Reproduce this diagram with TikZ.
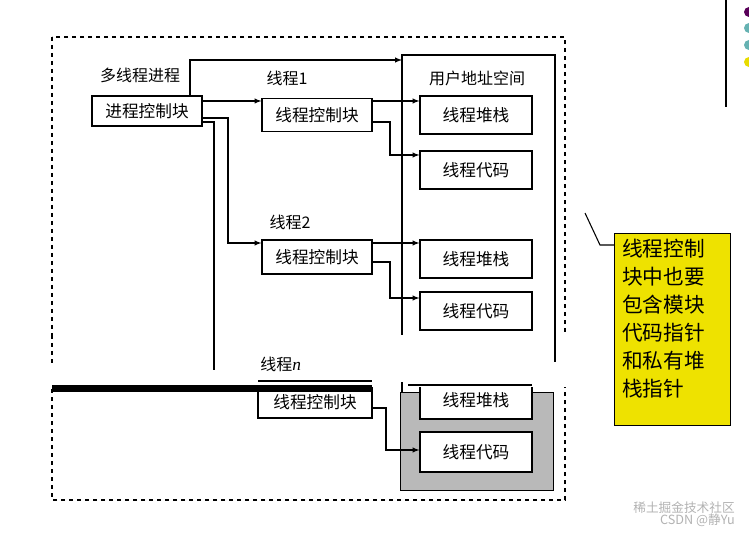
\documentclass[tikz,border=0pt]{standalone}
\usepackage{fontspec}
\setmainfont{Liberation Serif}
\newfontfamily\cjk{Noto Sans CJK SC}
\begin{document}
\begin{tikzpicture}[x=0.75pt,y=-0.75pt,
  box/.style={draw,thick,fill=white,inner sep=0,font=\cjk\fontsize{12.5}{14}\selectfont},
  lbl/.style={inner sep=0,font=\cjk\fontsize{12}{14}\selectfont},
  ar/.style={->,>=latex,thick},
  ln/.style={thick}]
\useasboundingbox (0,0) rectangle (749,534);
% frame
\draw[dashed,thick] (52,37) rectangle (565,500);
% user space upper
\draw[thick,fill=white] (555,335) -- (555,55) -- (402,55) -- (402,335);
\node[lbl] (us) at (477,78) {用户地址空间};
% lower gray
\node[draw,thick,fill=gray!55,minimum width=114.75pt,minimum height=73.5pt,anchor=north west,inner sep=0] (lowus) at (400,392) {};
\node[lbl] (mp) at (140,75) {多线程进程};
\node[box,minimum width=82.5pt,minimum height=22.5pt] (pcb) at (147,111) {进程控制块};
\node[lbl] (t1) at (287,78) {线程1};
\node[box,minimum width=82.5pt,minimum height=25pt] (tcb1) at (317,115) {线程控制块};
\node[box,minimum width=84pt,minimum height=28.5pt] (s1) at (476,115) {线程堆栈};
\node[box,minimum width=84pt,minimum height=28.5pt] (c1) at (476,170) {线程代码};
\node[lbl] (t2) at (290,222) {线程2};
\node[box,minimum width=82.5pt,minimum height=25.5pt] (tcb2) at (317,257) {线程控制块};
\node[box,minimum width=84pt,minimum height=28.5pt] (s2) at (476,259) {线程堆栈};
\node[box,minimum width=84pt,minimum height=28.5pt] (c2) at (476,311) {线程代码};
\node[box,minimum width=85.5pt,minimum height=24pt] (tcbn) at (315,402) {线程控制块};
\node[box,minimum width=84pt,minimum height=28.5pt] (sn) at (476,400) {线程堆栈};
\node[box,minimum width=84pt,minimum height=30pt] (cn) at (476,452) {线程代码};
% connectors
\coordinate (p1) at (190,60);
\coordinate (p2) at (402,60);
\draw[ar] (pcb.north -| p1) -- (p1) -- (p2);
\draw[ar] (pcb.east |- 0,101) -- (tcb1.west |- 0,101);
\draw[ar] (pcb.east |- 0,118) -- (228,118) -- (228,243) -- (tcb2.west |- 0,243);
\draw[ln] (pcb.east |- 0,122) -- (214,122) -- (214,382);
\draw[ar] (tcb1.east |- 0,101) -- (s1.west |- 0,101);
\draw[ar] (tcb1.east |- 0,122) -- (390,122) -- (390,155) -- (c1.west |- 0,155);
\draw[ar] (tcb2.east |- 0,243) -- (s2.west |- 0,243);
\draw[ar] (tcb2.east |- 0,262) -- (390,262) -- (390,298) -- (c2.west |- 0,298);
\draw[ar] (tcbn.east |- 0,408) -- (386,408) -- (386,450) -- (cn.west |- 0,450);
% white band
\fill[white] (48,335) rectangle (570,387);
\draw[ln] (214,335) -- (214,370);
\draw[ln] (555,335) -- (555,362);
\draw[dashed,thick] (52,335) -- (52,365);
\node[lbl,anchor=west] (tn) at (260,364) {线程{\rmfamily\itshape\fontsize{13}{14}\selectfont n}};
\fill[black] (52,385) rectangle (372,392);
\draw[thick] (258,381) -- (372,381);
\draw[thick] (408,385) -- (532,385);
\draw[thick] (402,382) -- (402,392);
% callout
\node[draw,thick,fill=yellow!85!olive,minimum width=87pt,minimum height=144pt,anchor=north west,inner sep=0] (call) at (614,233) {};
\node[inner sep=0,align=left,anchor=north west,font=\cjk\fontsize{15.5}{21}\selectfont] (ct) at (622,239) {线程控制\\块中也要\\包含模块\\代码指针\\和私有堆\\栈指针};
\coordinate (q1) at (585,213);
\coordinate (q2) at (600,245);
\draw[thick] (q1) -- (q2) -- (call.west |- q2);
% top right
\coordinate (v1) at (726,0);
\coordinate (v2) at (726,107);
\draw[line width=1.2pt] (v1) -- (v2);
\fill[violet!70!black] (749,12) circle (5);
\fill[teal!60] (749,28) circle (5);
\fill[teal!60] (749,45) circle (5);
\fill[yellow!80!olive] (749,62) circle (5);
\node[inner sep=0,text=gray!60,font=\cjk\fontsize{9.5}{11}\selectfont,anchor=east] (w1) at (735,508) {稀土掘金技术社区};
\node[inner sep=0,text=gray!60,font=\cjk\fontsize{9.5}{11}\selectfont,anchor=east] (w2) at (735,520) {CSDN @静Yu};
\end{tikzpicture}
\end{document}
